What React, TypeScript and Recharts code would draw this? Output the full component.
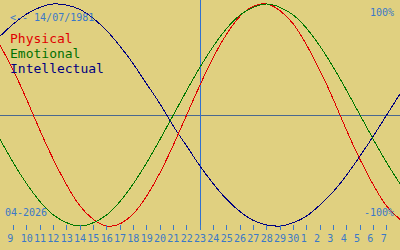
import React from 'react';
import { LineChart, Line, XAxis, YAxis, ReferenceLine } from 'recharts';

// day of month for each column, index -1 .. 29 (8 April .. 8 May)
const days = [
  '8', '9', '10', '11', '12', '13', '14', '15', '16', '17', '18', '19', '20', '21', '22', '23',
  '24', '25', '26', '27', '28', '29', '30', '1', '2', '3', '4', '5', '6', '7', '8'
];

const physical = [
  0.63, 0.4, 0.14, -0.14, -0.4, -0.63, -0.82, -0.94, -1.0, -0.98, -0.89, -0.73, -0.52, -0.27, 0.0, 0.27,
  0.52, 0.73, 0.89, 0.98, 1.0, 0.94, 0.82, 0.63, 0.4, 0.14, -0.14, -0.4, -0.63, -0.82, -0.94
];

const emotional = [
  -0.22, -0.43, -0.62, -0.78, -0.9, -0.97, -1.0, -0.97, -0.9, -0.78, -0.62, -0.43, -0.22, 0.0, 0.22, 0.43,
  0.62, 0.78, 0.9, 0.97, 1.0, 0.97, 0.9, 0.78, 0.62, 0.43, 0.22, 0.0, -0.22, -0.43, -0.62
];

const intellectual = [
  0.71, 0.82, 0.91, 0.97, 1.0, 0.99, 0.95, 0.87, 0.76, 0.62, 0.46, 0.28, 0.1, -0.1, -0.28, -0.46,
  -0.62, -0.76, -0.87, -0.95, -0.99, -1.0, -0.97, -0.91, -0.81, -0.69, -0.54, -0.37, -0.19, 0.0, 0.19
];

const today = 14; // column of the 23rd
const tickIdx = days.slice(1, 30).map((_, k) => k);

const data = days.map((d, k) => ({
  i: k - 1,
  day: d,
  physical: physical[k],
  emotional: emotional[k],
  intellectual: intellectual[k]
}));

const BG = '#e0d080';
const TXT = '#3a78c8';
const MONO = '"DejaVu Sans Mono", monospace';

const DayTick = (props: any) => {
  const { x, y, payload } = props;
  return (
    <g>
      <line x1={x} x2={x} y1={y - 5} y2={y} stroke={TXT} strokeWidth={1} shapeRendering="crispEdges" />
      <text x={x - 6} y={y + 12} fill={TXT} fontSize={10} fontFamily={MONO} textAnchor="start">
        {days[payload.value + 1]}
      </text>
    </g>
  );
};

export default function App() {
  return (
    <div style={{ position: 'fixed', left: 0, top: 0, width: 400, height: 250, background: BG }}>
      <LineChart width={400} height={250} data={data} margin={{ top: 0, right: 0, bottom: 0, left: 0 }}>
        <XAxis
          dataKey="i"
          type="number"
          domain={[-1, 29]}
          ticks={tickIdx}
          interval={0}
          axisLine={false}
          tickLine={false}
          tickSize={0}
          tickMargin={0}
          height={20}
          tick={DayTick}
        />
        <YAxis hide type="number" domain={[-1.036, 1.036]} />
        <ReferenceLine y={0} stroke="#4a6890" strokeWidth={1} shapeRendering="crispEdges" />
        <ReferenceLine x={today} stroke="#3070d0" strokeWidth={1} shapeRendering="crispEdges" />
        <Line type="natural" dataKey="intellectual" stroke="#000080" strokeWidth={1} dot={false} activeDot={false} shapeRendering="crispEdges" isAnimationActive={false} />
        <Line type="natural" dataKey="physical" stroke="#e00000" strokeWidth={1} dot={false} activeDot={false} shapeRendering="crispEdges" isAnimationActive={false} />
        <Line type="natural" dataKey="emotional" stroke="#007800" strokeWidth={1} dot={false} activeDot={false} shapeRendering="crispEdges" isAnimationActive={false} />
      </LineChart>
      <svg width={400} height={250} style={{ position: 'absolute', left: 0, top: 0, pointerEvents: 'none' }}>
        <text x={10} y={21} fill={TXT} fontSize={10} fontFamily={MONO}>{'<-- 14/07/1981'}</text>
        <text x={394} y={16} fill={TXT} fontSize={10} fontFamily={MONO} textAnchor="end">100%</text>
        <text x={5} y={216} fill={TXT} fontSize={10} fontFamily={MONO}>04-2026</text>
        <text x={394} y={216} fill={TXT} fontSize={10} fontFamily={MONO} textAnchor="end">-100%</text>
        <text x={10} y={43} fill="#e00000" fontSize={13} fontFamily={MONO}>Physical</text>
        <text x={10} y={58} fill="#007000" fontSize={13} fontFamily={MONO}>Emotional</text>
        <text x={10} y={73} fill="#000080" fontSize={13} fontFamily={MONO}>Intellectual</text>
      </svg>
    </div>
  );
}
